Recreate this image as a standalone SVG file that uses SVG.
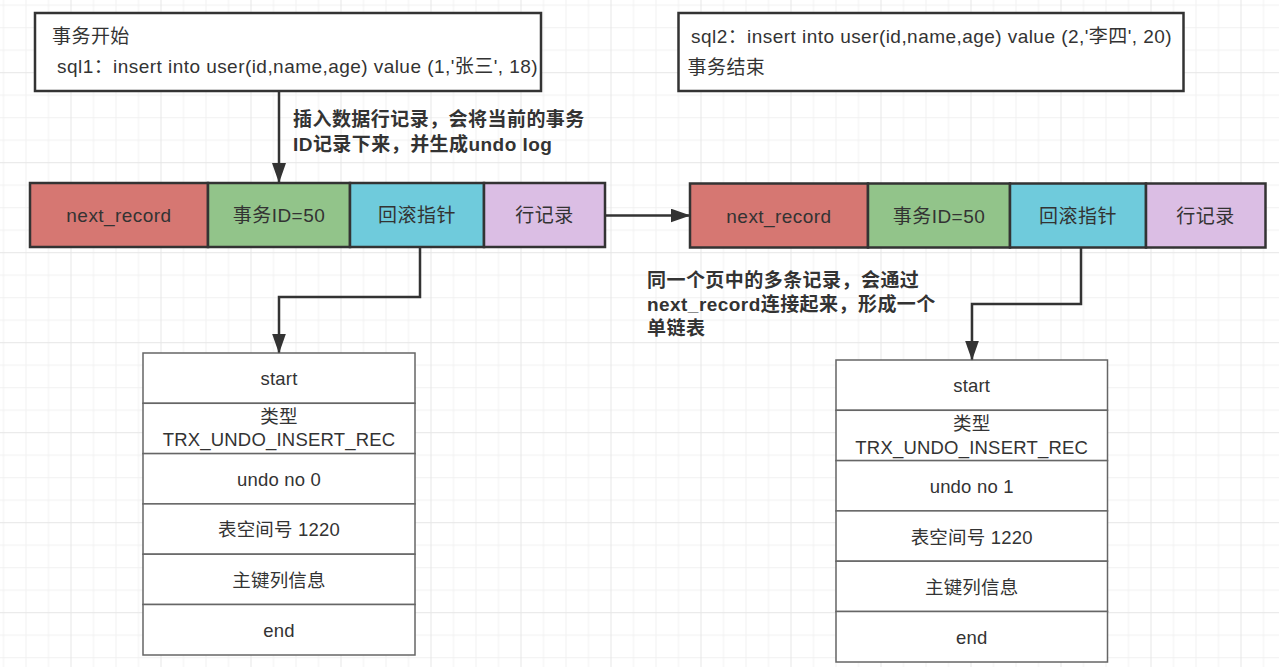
<svg xmlns="http://www.w3.org/2000/svg" width="1279" height="667" viewBox="0 0 1279 667">
<defs>
<pattern id="grid" patternUnits="userSpaceOnUse" x="70.5" y="72.2" width="90" height="90">
<rect width="90" height="90" fill="#ffffff"/>
<g fill="#f1f1f1">
<rect x="22.5" y="0" width="1" height="90"/><rect x="45" y="0" width="1" height="90"/><rect x="67.5" y="0" width="1" height="90"/>
<rect x="0" y="22.5" width="90" height="1"/><rect x="0" y="45" width="90" height="1"/><rect x="0" y="67.5" width="90" height="1"/>
</g>
<g fill="#e6e6e6">
<rect x="0" y="0" width="1" height="90"/><rect x="0" y="0" width="90" height="1"/>
</g>
</pattern>
<marker id="arr" viewBox="0 0 20 14" refX="19" refY="7" markerWidth="20" markerHeight="14" markerUnits="userSpaceOnUse" orient="auto">
<path d="M0,0 L20,7 L0,14 Z" fill="#333333"/>
</marker>
<style>
text{font-family:"Liberation Sans","Noto Sans CJK SC",sans-serif;fill:#333333;font-size:19px;letter-spacing:0.45px;stroke:none}
.c{text-anchor:middle}
.b{font-weight:bold}
.box{fill:#ffffff;stroke:#333333;stroke-width:2.5}
.cell{stroke:#333333;stroke-width:2.5}
.u rect{fill:#ffffff;stroke:#666666;stroke-width:1.5}
.u text{font-size:18.5px;letter-spacing:0.2px}
.conn{fill:none;stroke:#333333;stroke-width:2.5}
</style>
</defs>
<rect width="1279" height="667" fill="url(#grid)"/>

<g id="tx-start">
<rect class="box" x="35" y="13" width="506" height="78"/>
<text x="52" y="43">事务开始</text>
<text x="57" y="73">sql1：insert into user(id,name,age) value (1,'张三', 18)</text>
</g>

<g id="tx-end">
<rect class="box" x="678.5" y="13" width="505" height="78"/>
<text x="691" y="43">sql2：insert into user(id,name,age) value (2,'李四', 20)</text>
<text x="687.5" y="74">事务结束</text>
</g>

<g id="record1">
<rect class="cell" x="30" y="183" width="178" height="64" fill="#d67772"/>
<rect class="cell" x="208" y="183" width="142" height="64" fill="#92c48a"/>
<rect class="cell" x="350" y="183" width="134" height="64" fill="#6fcbdc"/>
<rect class="cell" x="484" y="183" width="121" height="64" fill="#dbbee4"/>
<text class="c" x="119" y="222">next_record</text>
<text class="c" x="279" y="222">事务ID=50</text>
<text class="c" x="417" y="222">回滚指针</text>
<text class="c" x="544.5" y="222">行记录</text>
</g>

<g id="record2">
<rect class="cell" x="690" y="183.5" width="178" height="64" fill="#d67772"/>
<rect class="cell" x="868" y="183.5" width="142" height="64" fill="#92c48a"/>
<rect class="cell" x="1010" y="183.5" width="136" height="64" fill="#6fcbdc"/>
<rect class="cell" x="1146" y="183.5" width="119.5" height="64" fill="#dbbee4"/>
<text class="c" x="779" y="222.5">next_record</text>
<text class="c" x="939" y="222.5">事务ID=50</text>
<text class="c" x="1078" y="222.5">回滚指针</text>
<text class="c" x="1205.5" y="222.5">行记录</text>
</g>

<g id="undo1" class="u">
<rect x="143" y="353" width="272" height="50.3"/>
<rect x="143" y="403.3" width="272" height="50.3"/>
<rect x="143" y="453.6" width="272" height="50.3"/>
<rect x="143" y="503.9" width="272" height="50.3"/>
<rect x="143" y="554.2" width="272" height="50.3"/>
<rect x="143" y="604.5" width="272" height="50.5"/>
<text class="c" x="279" y="385">start</text>
<text class="c" x="279" y="422.5">类型</text>
<text class="c" x="279" y="446">TRX_UNDO_INSERT_REC</text>
<text class="c" x="279" y="485.5">undo no 0</text>
<text class="c" x="279" y="536">表空间号 1220</text>
<text class="c" x="279" y="586.5">主键列信息</text>
<text class="c" x="279" y="636.5">end</text>
</g>

<g id="undo2" class="u">
<rect x="836" y="360" width="271.5" height="50.3"/>
<rect x="836" y="410.3" width="271.5" height="50.3"/>
<rect x="836" y="460.6" width="271.5" height="50.3"/>
<rect x="836" y="510.9" width="271.5" height="50.3"/>
<rect x="836" y="561.2" width="271.5" height="50.3"/>
<rect x="836" y="611.5" width="271.5" height="50.5"/>
<text class="c" x="971.7" y="392">start</text>
<text class="c" x="971.7" y="430">类型</text>
<text class="c" x="971.7" y="453.5">TRX_UNDO_INSERT_REC</text>
<text class="c" x="971.7" y="493">undo no 1</text>
<text class="c" x="971.7" y="543.5">表空间号 1220</text>
<text class="c" x="971.7" y="594">主键列信息</text>
<text class="c" x="971.7" y="644">end</text>
</g>

<g id="connectors">
<path class="conn" d="M279,91 L279,182" marker-end="url(#arr)"/>
<path class="conn" d="M605,215.5 L689.5,215.5" marker-end="url(#arr)"/>
<path class="conn" d="M420,247 L420,297 L279,297 L279,352.5" marker-end="url(#arr)"/>
<path class="conn" d="M1081,248 L1081,304 L972,304 L972,359.5" marker-end="url(#arr)"/>
</g>

<g id="label-insert">
<text class="b" x="293" y="126">插入数据行记录，会将当前的事务</text>
<text class="b" x="293" y="151">ID记录下来，并生成undo log</text>
</g>

<g id="label-next">
<text class="b" x="647" y="286.5">同一个页中的多条记录，会通过</text>
<text class="b" x="647" y="310.5">next_record连接起来，形成一个</text>
<text class="b" x="647" y="334.5">单链表</text>
</g>
</svg>
